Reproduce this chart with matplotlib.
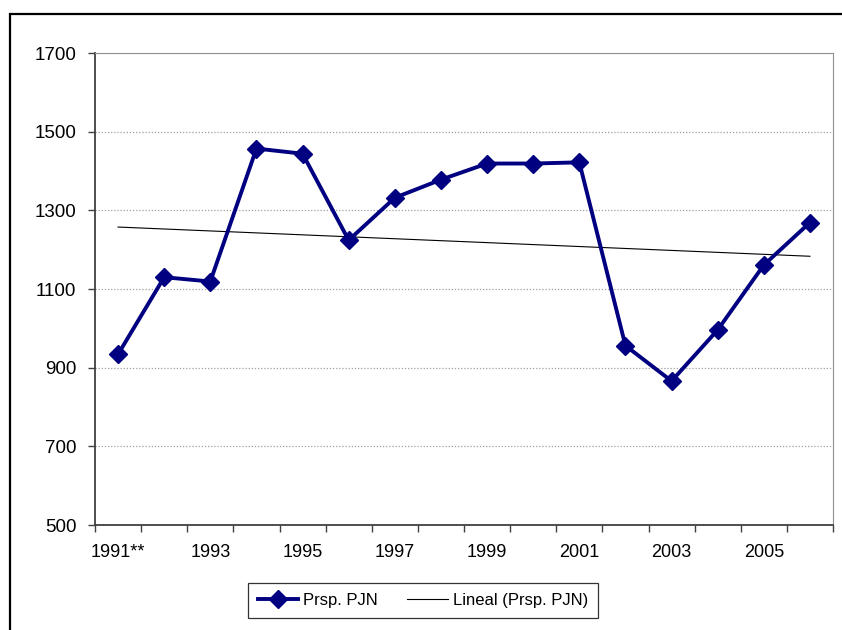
import numpy as np
import matplotlib

matplotlib.use("Agg")
import matplotlib.pyplot as plt
from matplotlib.patches import Rectangle

plt.rcParams["font.family"] = ["Liberation Sans", "DejaVu Sans"]

# datos
years = list(range(1991, 2007))
year_labels = ["1991**", "1993", "1995", "1997", "1999", "2001", "2003", "2005"]
prsp_pjn = [934, 1130, 1119, 1457, 1444, 1224, 1332, 1378,
            1419, 1419, 1422, 956, 866, 996, 1161, 1269]

W, H = 842, 630
fig = plt.figure(figsize=(W / 100, H / 100), dpi=100, facecolor="white")

# marco exterior (recortado a la derecha y abajo)
fig.patches.append(Rectangle((10 / W, -0.05), 1.2, (H - 14) / H + 0.05,
                             transform=fig.transFigure, fill=False,
                             edgecolor="black", linewidth=1.6))

left, right, top, bottom = 95, 833, 53, 525
ax = fig.add_axes([left / W, 1 - bottom / H, (right - left) / W, (bottom - top) / H])

x = np.arange(len(years))
ax.plot(x, prsp_pjn, color="#000080", linewidth=2.8, marker="D",
        markersize=9.2, markeredgewidth=1, markeredgecolor="#000080",
        label="Prsp. PJN", zorder=3)

# línea de tendencia (regresión lineal)
coef = np.polyfit(x, prsp_pjn, 1)
ax.plot(x, np.polyval(coef, x), color="black", linewidth=0.8,
        label="Lineal (Prsp. PJN)", zorder=2)

ax.set_xlim(-0.5, len(years) - 0.5)
ax.set_ylim(500, 1700)
ax.set_yticks(np.arange(500, 1701, 200))
ax.set_yticklabels([str(v) for v in range(500, 1701, 200)], fontsize=13.5)
ax.set_xticks(x[::2])
ax.set_xticklabels(year_labels, fontsize=13)
ax.set_xticks(np.arange(-0.5, len(years)), minor=True)
ax.tick_params(axis="x", which="major", length=0, pad=14)
ax.tick_params(axis="x", which="minor", length=5, width=1, color="#404040", direction="out")
ax.tick_params(axis="y", length=5, width=1, color="#404040", direction="out", pad=8.5)

ax.grid(axis="y", linestyle=(0, (1, 1.5)), linewidth=0.9, color="#a0a0a0")
ax.set_axisbelow(True)

ax.spines["left"].set_color("#404040")
ax.spines["bottom"].set_color("#404040")
ax.spines["left"].set_linewidth(1.3)
ax.spines["bottom"].set_linewidth(1.3)
ax.spines["top"].set_color("#909090")
ax.spines["right"].set_color("#909090")

leg = fig.legend(loc="center", bbox_to_anchor=(423 / W, 1 - 600 / H), ncol=2,
                 fontsize=12, frameon=True, fancybox=False, shadow=False,
                 edgecolor="black", handlelength=2.45, handletextpad=0.3,
                 columnspacing=1.75, borderpad=0.6)
leg.get_frame().set_linewidth(0.9)

fig.savefig("out.png", dpi=100, facecolor="white")
